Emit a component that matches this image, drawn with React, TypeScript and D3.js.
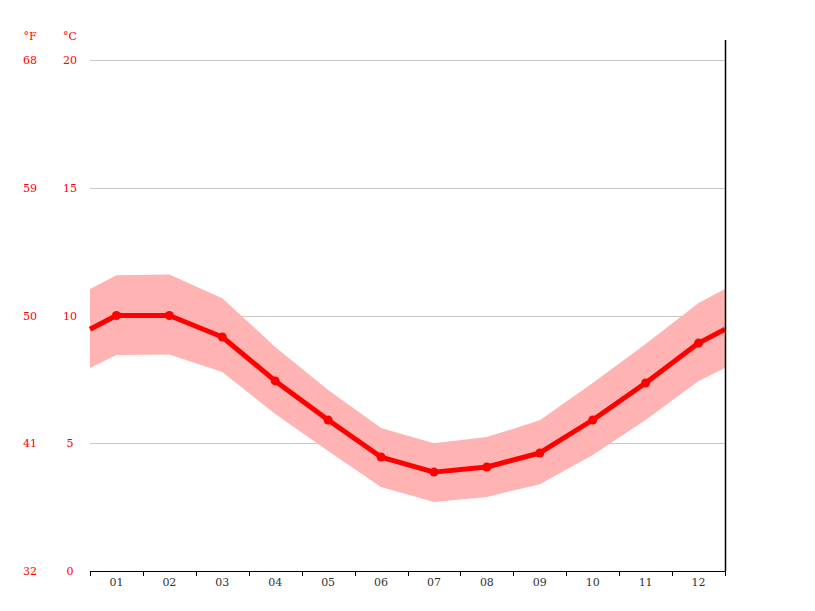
import { useRef, useEffect } from 'react'
import * as d3 from 'd3'

const months = ['01', '02', '03', '04', '05', '06', '07', '08', '09', '10', '11', '12']
const tempMean = [10.0, 10.0, 9.16, 7.44, 5.91, 4.46, 3.87, 4.07, 4.62, 5.91, 7.36, 8.92]
const tempHigh = [11.58, 11.6, 10.68, 8.77, 7.08, 5.6, 5.0, 5.24, 5.9, 7.36, 8.88, 10.49]
const tempLow = [8.45, 8.47, 7.79, 6.14, 4.7, 3.29, 2.7, 2.9, 3.4, 4.54, 5.91, 7.44]
const celsiusTicks = [0, 5, 10, 15, 20]
const fahrenheitLabels = ['32', '41', '50', '59', '68']

const W = 815
const H = 611
const left = 90
const right = 725
const top = 60
const bottom = 571

export default function App() {
  const ref = useRef<SVGSVGElement>(null)

  useEffect(() => {
    if (!ref.current) return
    const svg = d3.select(ref.current)
    svg.selectAll('*').remove()

    const n = months.length
    const x = d3.scaleLinear().domain([-0.5, n - 0.5]).range([left, right])
    const y = d3.scaleLinear().domain([0, 20]).range([bottom, top])

    // wrap Dec -> Jan at the edges
    const wrap = (arr: number[]) => {
      const edge = (arr[0] + arr[n - 1]) / 2
      return [{ i: -0.5, v: edge }, ...arr.map((v, i) => ({ i, v })), { i: n - 0.5, v: edge }]
    }
    const mean = wrap(tempMean)
    const hi = wrap(tempHigh)
    const lo = wrap(tempLow)
    const band = hi.map((d, k) => ({ i: d.i, hi: d.v, lo: lo[k].v }))

    // gridlines
    svg.append('g')
      .selectAll('line')
      .data(celsiusTicks.filter(t => t > 0))
      .enter()
      .append('line')
      .attr('x1', left)
      .attr('x2', right)
      .attr('y1', d => Math.round(y(d)) + 0.5)
      .attr('y2', d => Math.round(y(d)) + 0.5)
      .attr('stroke', '#c8c8c8')
      .attr('stroke-width', 1)

    // y labels
    const labelFont = 'DejaVu Serif, serif'
    svg.append('text').attr('x', 30).attr('y', 40).attr('text-anchor', 'middle')
      .attr('font-family', labelFont).attr('font-size', 11).attr('fill', '#ff0000').text('°F')
    svg.append('text').attr('x', 70).attr('y', 40).attr('text-anchor', 'middle')
      .attr('font-family', labelFont).attr('font-size', 11).attr('fill', '#ff0000').text('°C')
    celsiusTicks.forEach((t, k) => {
      svg.append('text').attr('x', 30).attr('y', y(t) + 4).attr('text-anchor', 'middle')
        .attr('font-family', labelFont).attr('font-size', 11).attr('fill', '#ff0000')
        .text(fahrenheitLabels[k])
      svg.append('text').attr('x', 70).attr('y', y(t) + 4).attr('text-anchor', 'middle')
        .attr('font-family', labelFont).attr('font-size', 11).attr('fill', '#ff0000')
        .text(String(t))
    })

    // band
    const area = d3.area<{ i: number; hi: number; lo: number }>()
      .x(d => x(d.i))
      .y0(d => y(d.lo))
      .y1(d => y(d.hi))
    svg.append('path').datum(band).attr('d', area).attr('fill', '#ffb3b3')

    // mean line
    const line = d3.line<{ i: number; v: number }>().x(d => x(d.i)).y(d => y(d.v))
    svg.append('path').datum(mean).attr('d', line)
      .attr('fill', 'none').attr('stroke', '#ff0000').attr('stroke-width', 5)
      .attr('stroke-linejoin', 'round')
    svg.append('g').selectAll('circle')
      .data(mean.slice(1, n + 1))
      .enter()
      .append('circle')
      .attr('cx', d => x(d.i))
      .attr('cy', d => y(d.v))
      .attr('r', 4.5)
      .attr('fill', '#ff0000')

    // x axis
    svg.append('line').attr('x1', left).attr('x2', right + 0.5)
      .attr('y1', bottom + 0.5).attr('y2', bottom + 0.5)
      .attr('stroke', '#000').attr('stroke-width', 1)
    svg.append('g').selectAll('line')
      .data(d3.range(n + 1))
      .enter()
      .append('line')
      .attr('x1', d => Math.round(x(d - 0.5)) + 0.5)
      .attr('x2', d => Math.round(x(d - 0.5)) + 0.5)
      .attr('y1', bottom)
      .attr('y2', bottom + 5)
      .attr('stroke', '#000')
    svg.append('g').selectAll('text')
      .data(months)
      .enter()
      .append('text')
      .attr('x', (_, i) => x(i))
      .attr('y', bottom + 15)
      .attr('text-anchor', 'middle')
      .attr('font-family', labelFont)
      .attr('font-size', 11)
      .attr('fill', '#333')
      .text(d => d)

    // right border
    svg.append('line').attr('x1', right + 0.5).attr('x2', right + 0.5)
      .attr('y1', 40).attr('y2', bottom)
      .attr('stroke', '#000').attr('stroke-width', 1.5)
  }, [])

  return (
    <svg ref={ref} width={W} height={H}
      style={{ position: 'absolute', left: 0, top: 0, background: '#fff' }} />
  )
}
